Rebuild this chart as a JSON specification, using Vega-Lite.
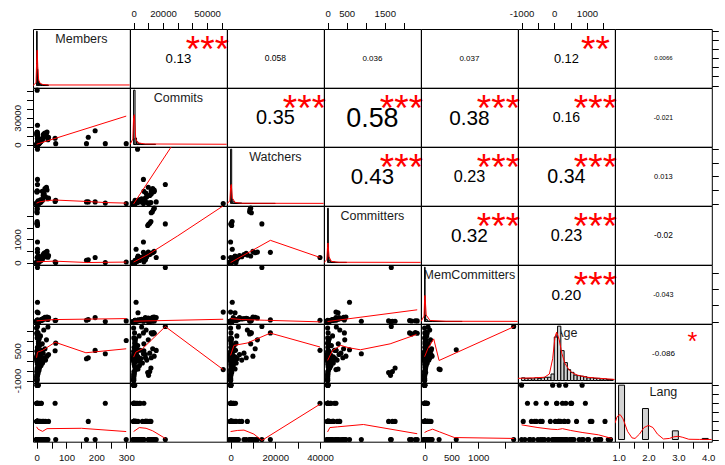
{
"$schema":"https://vega.github.io/schema/vega-lite/v6.json",
"padding":{"left":12,"top":8,"right":0,"bottom":0},
"background":"white",
"columns":7,
"spacing":0,
"bounds":"flush",
"config":{
"view":{"stroke":"#000","strokeWidth":1},
"axis":{"grid":false,"domain":false,"tickColor":"#000","tickSize":6.5,"tickWidth":1,"labelFont":"Liberation Sans","labelFontSize":9.6,"labelColor":"#111","labelPadding":4,"labelFlush":false,"labelOverlap":false},
"text":{"font":"Liberation Sans","baseline":"alphabetic","align":"center","color":"#000"}
},
"datasets":{
"vars":[{"v":"Members"},{"v":"Commits"},{"v":"Watchers"},{"v":"Committers"},{"v":"MemCommitters"},{"v":"Age"},{"v":"Lang"}],
"cor":[
{"cell":"1-2","r":"0.13","s":"***"},{"cell":"1-3","r":"0.058","s":""},{"cell":"1-4","r":"0.036","s":""},{"cell":"1-5","r":"0.037","s":""},{"cell":"1-6","r":"0.12","s":"**"},{"cell":"1-7","r":"0.0066","s":""},
{"cell":"2-3","r":"0.35","s":"***"},{"cell":"2-4","r":"0.58","s":"***"},{"cell":"2-5","r":"0.38","s":"***"},{"cell":"2-6","r":"0.16","s":"***"},{"cell":"2-7","r":"-0.021","s":""},
{"cell":"3-4","r":"0.43","s":"***"},{"cell":"3-5","r":"0.23","s":"***"},{"cell":"3-6","r":"0.34","s":"***"},{"cell":"3-7","r":"0.013","s":""},
{"cell":"4-5","r":"0.32","s":"***"},{"cell":"4-6","r":"0.23","s":"***"},{"cell":"4-7","r":"-0.02","s":""},
{"cell":"5-6","r":"0.20","s":"***"},{"cell":"5-7","r":"-0.043","s":""},
{"cell":"6-7","r":"-0.086","s":"*"}],
"obs":[
{"Members":2,"Commits":61000,"Watchers":0,"Committers":220,"MemCommitters":290,"Age":-450,"Lang":null},
{"Members":3,"Commits":2700,"Watchers":40000,"Committers":220,"MemCommitters":40,"Age":520,"Lang":3},
{"Members":3,"Commits":21600,"Watchers":14000,"Committers":1670,"MemCommitters":1660,"Age":1720,"Lang":1},
{"Members":2,"Commits":14100,"Watchers":9000,"Committers":2350,"MemCommitters":20,"Age":1380,"Lang":1},
{"Members":2,"Commits":13600,"Watchers":8700,"Committers":2300,"MemCommitters":25,"Age":1420,"Lang":1},
{"Members":1,"Commits":12800,"Watchers":8500,"Committers":2200,"MemCommitters":15,"Age":1350,"Lang":1},
{"Members":2,"Commits":12000,"Watchers":9300,"Committers":2150,"MemCommitters":30,"Age":1400,"Lang":1},
{"Members":2,"Commits":11800,"Watchers":700,"Committers":1770,"MemCommitters":10,"Age":-370,"Lang":2},
{"Members":1,"Commits":11000,"Watchers":300,"Committers":1700,"MemCommitters":5,"Age":-550,"Lang":2},
{"Members":2,"Commits":10200,"Watchers":100,"Committers":1650,"MemCommitters":0,"Age":-740,"Lang":1},
{"Members":3,"Commits":9600,"Watchers":500,"Committers":1600,"MemCommitters":20,"Age":-600,"Lang":2},
{"Members":3,"Commits":6700,"Watchers":0,"Committers":885,"MemCommitters":10,"Age":352,"Lang":1},
{"Members":3,"Commits":6700,"Watchers":17800,"Committers":440,"MemCommitters":50,"Age":1400,"Lang":1},
{"Members":3,"Commits":1700,"Watchers":750,"Committers":575,"MemCommitters":590,"Age":553,"Lang":1},
{"Members":5,"Commits":3000,"Watchers":2000,"Committers":275,"MemCommitters":270,"Age":-420,"Lang":1},
{"Members":300,"Commits":1000,"Watchers":0,"Committers":20,"MemCommitters":20,"Age":1020,"Lang":1},
{"Members":230,"Commits":1000,"Watchers":300,"Committers":0,"MemCommitters":0,"Age":352,"Lang":3},
{"Members":196,"Commits":15400,"Watchers":1200,"Committers":220,"MemCommitters":120,"Age":518,"Lang":1},
{"Members":173,"Commits":8100,"Watchers":1200,"Committers":120,"MemCommitters":60,"Age":150,"Lang":2},
{"Members":167,"Commits":1000,"Watchers":1200,"Committers":100,"MemCommitters":40,"Age":100,"Lang":1},
{"Members":64,"Commits":1000,"Watchers":2400,"Committers":0,"MemCommitters":40,"Age":885,"Lang":1},
{"Members":62,"Commits":7000,"Watchers":1500,"Committers":30,"MemCommitters":30,"Age":500,"Lang":3},
{"Members":0,"Commits":10,"Watchers":2,"Committers":1,"MemCommitters":0,"Age":-1000,"Lang":1},
{"Members":1,"Commits":30,"Watchers":5,"Committers":1,"MemCommitters":0,"Age":-950,"Lang":2},
{"Members":2,"Commits":120,"Watchers":20,"Committers":3,"MemCommitters":1,"Age":-900,"Lang":1},
{"Members":0,"Commits":50,"Watchers":10,"Committers":2,"MemCommitters":0,"Age":-820,"Lang":3},
{"Members":3,"Commits":300,"Watchers":40,"Committers":5,"MemCommitters":2,"Age":-760,"Lang":1},
{"Members":1,"Commits":80,"Watchers":15,"Committers":2,"MemCommitters":1,"Age":-700,"Lang":2},
{"Members":5,"Commits":500,"Watchers":100,"Committers":10,"MemCommitters":5,"Age":-640,"Lang":1},
{"Members":2,"Commits":200,"Watchers":60,"Committers":4,"MemCommitters":2,"Age":-560,"Lang":3},
{"Members":8,"Commits":900,"Watchers":300,"Committers":20,"MemCommitters":10,"Age":-500,"Lang":1},
{"Members":4,"Commits":1500,"Watchers":500,"Committers":30,"MemCommitters":15,"Age":-430,"Lang":2},
{"Members":10,"Commits":2500,"Watchers":800,"Committers":60,"MemCommitters":20,"Age":-360,"Lang":1},
{"Members":6,"Commits":700,"Watchers":150,"Committers":15,"MemCommitters":8,"Age":-300,"Lang":1},
{"Members":15,"Commits":4000,"Watchers":1200,"Committers":90,"MemCommitters":30,"Age":-240,"Lang":3},
{"Members":3,"Commits":400,"Watchers":80,"Committers":8,"MemCommitters":3,"Age":-180,"Lang":1},
{"Members":20,"Commits":6000,"Watchers":2500,"Committers":150,"MemCommitters":50,"Age":-120,"Lang":2},
{"Members":7,"Commits":1200,"Watchers":400,"Committers":40,"MemCommitters":12,"Age":-60,"Lang":1},
{"Members":12,"Commits":3500,"Watchers":1500,"Committers":120,"MemCommitters":40,"Age":-20,"Lang":1},
{"Members":2,"Commits":100,"Watchers":30,"Committers":3,"MemCommitters":1,"Age":10,"Lang":1},
{"Members":30,"Commits":9000,"Watchers":5000,"Committers":250,"MemCommitters":80,"Age":30,"Lang":2},
{"Members":4,"Commits":800,"Watchers":200,"Committers":25,"MemCommitters":10,"Age":50,"Lang":1},
{"Members":9,"Commits":2000,"Watchers":700,"Committers":70,"MemCommitters":25,"Age":70,"Lang":3},
{"Members":1,"Commits":60,"Watchers":12,"Committers":2,"MemCommitters":1,"Age":90,"Lang":1},
{"Members":18,"Commits":5000,"Watchers":3000,"Committers":200,"MemCommitters":60,"Age":110,"Lang":1},
{"Members":5,"Commits":1000,"Watchers":350,"Committers":35,"MemCommitters":15,"Age":130,"Lang":2},
{"Members":25,"Commits":12000,"Watchers":7000,"Committers":400,"MemCommitters":100,"Age":150,"Lang":1},
{"Members":3,"Commits":250,"Watchers":50,"Committers":6,"MemCommitters":2,"Age":170,"Lang":1},
{"Members":14,"Commits":3000,"Watchers":2000,"Committers":150,"MemCommitters":45,"Age":190,"Lang":2},
{"Members":6,"Commits":600,"Watchers":250,"Committers":18,"MemCommitters":6,"Age":210,"Lang":1},
{"Members":35,"Commits":14000,"Watchers":10000,"Committers":480,"MemCommitters":140,"Age":230,"Lang":1},
{"Members":2,"Commits":150,"Watchers":25,"Committers":4,"MemCommitters":1,"Age":250,"Lang":3},
{"Members":11,"Commits":2200,"Watchers":1000,"Committers":80,"MemCommitters":30,"Age":280,"Lang":1},
{"Members":40,"Commits":8000,"Watchers":4000,"Committers":300,"MemCommitters":120,"Age":310,"Lang":2},
{"Members":4,"Commits":450,"Watchers":90,"Committers":10,"MemCommitters":4,"Age":340,"Lang":1},
{"Members":22,"Commits":11000,"Watchers":6000,"Committers":350,"MemCommitters":90,"Age":380,"Lang":1},
{"Members":8,"Commits":1800,"Watchers":600,"Committers":50,"MemCommitters":20,"Age":420,"Lang":2},
{"Members":1,"Commits":40,"Watchers":8,"Committers":1,"MemCommitters":0,"Age":470,"Lang":1},
{"Members":16,"Commits":4500,"Watchers":2200,"Committers":180,"MemCommitters":55,"Age":530,"Lang":3},
{"Members":28,"Commits":13000,"Watchers":11000,"Committers":420,"MemCommitters":130,"Age":600,"Lang":1},
{"Members":3,"Commits":350,"Watchers":70,"Committers":7,"MemCommitters":3,"Age":680,"Lang":2},
{"Members":10,"Commits":2800,"Watchers":1600,"Committers":100,"MemCommitters":35,"Age":760,"Lang":1},
{"Members":19,"Commits":7000,"Watchers":9000,"Committers":280,"MemCommitters":70,"Age":850,"Lang":1},
{"Members":6,"Commits":900,"Watchers":300,"Committers":22,"MemCommitters":8,"Age":950,"Lang":3},
{"Members":33,"Commits":10000,"Watchers":12000,"Committers":450,"MemCommitters":110,"Age":1050,"Lang":1},
{"Members":2,"Commits":180,"Watchers":40,"Committers":3,"MemCommitters":1,"Age":1150,"Lang":2},
{"Members":13,"Commits":3800,"Watchers":2800,"Committers":130,"MemCommitters":40,"Age":1250,"Lang":1},
{"Members":5,"Commits":650,"Watchers":180,"Committers":14,"MemCommitters":5,"Age":1400,"Lang":1},
{"Members":24,"Commits":8500,"Watchers":7500,"Committers":320,"MemCommitters":95,"Age":1550,"Lang":2},
{"Members":0,"Commits":20,"Watchers":3,"Committers":1,"MemCommitters":0,"Age":1650,"Lang":1},
{"Members":38,"Commits":5500,"Watchers":3500,"Committers":230,"MemCommitters":65,"Age":1700,"Lang":1},
{"Members":9,"Commits":1300,"Watchers":450,"Committers":45,"MemCommitters":14,"Age":1100,"Lang":2},
{"Members":1,"Commits":70,"Watchers":10,"Committers":2,"MemCommitters":0,"Age":60,"Lang":1},
{"Members":2,"Commits":140,"Watchers":30,"Committers":3,"MemCommitters":1,"Age":120,"Lang":2},
{"Members":0,"Commits":25,"Watchers":4,"Committers":1,"MemCommitters":0,"Age":180,"Lang":1},
{"Members":3,"Commits":330,"Watchers":60,"Committers":6,"MemCommitters":2,"Age":140,"Lang":1},
{"Members":1,"Commits":90,"Watchers":18,"Committers":2,"MemCommitters":1,"Age":80,"Lang":3},
{"Members":4,"Commits":600,"Watchers":150,"Committers":12,"MemCommitters":4,"Age":200,"Lang":1},
{"Members":2,"Commits":260,"Watchers":45,"Committers":5,"MemCommitters":2,"Age":300,"Lang":2},
{"Members":5,"Commits":700,"Watchers":220,"Committers":16,"MemCommitters":7,"Age":100,"Lang":1},
{"Members":2,"Commits":100,"Watchers":20,"Committers":2,"MemCommitters":1,"Age":-1000,"Lang":4},
{"Members":1,"Commits":50,"Watchers":10,"Committers":1,"MemCommitters":0,"Age":-50,"Lang":4},
{"Members":4,"Commits":400,"Watchers":100,"Committers":8,"MemCommitters":3,"Age":150,"Lang":4},
{"Members":3,"Commits":200,"Watchers":50,"Committers":5,"MemCommitters":2,"Age":350,"Lang":4},
{"Members":6,"Commits":800,"Watchers":200,"Committers":15,"MemCommitters":6,"Age":850,"Lang":4}
],
"sm":[
{"p":"2-1","x":0,"y":300},{"p":"2-1","x":300,"y":31900},
{"p":"3-1","x":0,"y":300},{"p":"3-1","x":10,"y":1200},{"p":"3-1","x":30,"y":2000},{"p":"3-1","x":60,"y":2600},{"p":"3-1","x":170,"y":1500},{"p":"3-1","x":230,"y":700},{"p":"3-1","x":300,"y":300},
{"p":"3-2","x":0,"y":-300},{"p":"3-2","x":61000,"y":100000},
{"p":"4-1","x":0,"y":30},{"p":"4-1","x":60,"y":60},{"p":"4-1","x":170,"y":0},{"p":"4-1","x":300,"y":20},
{"p":"4-2","x":0,"y":20},{"p":"4-2","x":10000,"y":350},{"p":"4-2","x":30000,"y":1150},{"p":"4-2","x":61000,"y":2450},
{"p":"4-3","x":0,"y":0},{"p":"4-3","x":17800,"y":960},{"p":"4-3","x":40000,"y":220},
{"p":"5-1","x":0,"y":20},{"p":"5-1","x":60,"y":60},{"p":"5-1","x":300,"y":90},
{"p":"5-2","x":0,"y":10},{"p":"5-2","x":61000,"y":70},
{"p":"5-3","x":0,"y":90},{"p":"5-3","x":5000,"y":60},{"p":"5-3","x":15000,"y":40},{"p":"5-3","x":40000,"y":-10},
{"p":"5-4","x":0,"y":0},{"p":"5-4","x":2350,"y":360},
{"p":"6-1","x":0,"y":150},{"p":"6-1","x":3,"y":430},{"p":"6-1","x":20,"y":520},{"p":"6-1","x":62,"y":930},{"p":"6-1","x":165,"y":400},{"p":"6-1","x":300,"y":600},
{"p":"6-2","x":0,"y":180},{"p":"6-2","x":1500,"y":430},{"p":"6-2","x":6000,"y":600},{"p":"6-2","x":21600,"y":1720},{"p":"6-2","x":61000,"y":-450},
{"p":"6-3","x":0,"y":270},{"p":"6-3","x":1500,"y":770},{"p":"6-3","x":7400,"y":890},{"p":"6-3","x":17800,"y":1390},{"p":"6-3","x":40000,"y":690},
{"p":"6-4","x":0,"y":14},{"p":"6-4","x":130,"y":514},{"p":"6-4","x":345,"y":770},{"p":"6-4","x":560,"y":650},{"p":"6-4","x":860,"y":550},{"p":"6-4","x":1640,"y":850},{"p":"6-4","x":2330,"y":1320},
{"p":"6-5","x":0,"y":200},{"p":"6-5","x":60,"y":600},{"p":"6-5","x":170,"y":1100},{"p":"6-5","x":270,"y":10},{"p":"6-5","x":1670,"y":1720},
{"p":"7-1","x":0,"y":1.7},{"p":"7-1","x":5,"y":1.57},{"p":"7-1","x":20,"y":1.45},{"p":"7-1","x":35,"y":1.6},{"p":"7-1","x":150,"y":1.62},{"p":"7-1","x":300,"y":1.44},
{"p":"7-2","x":0,"y":1.44},{"p":"7-2","x":3900,"y":1.66},{"p":"7-2","x":8500,"y":1.62},{"p":"7-2","x":13000,"y":1.48},{"p":"7-2","x":21600,"y":1.06},
{"p":"7-3","x":0,"y":1.44},{"p":"7-3","x":3000,"y":1.5},{"p":"7-3","x":6000,"y":1.52},{"p":"7-3","x":10400,"y":1.3},{"p":"7-3","x":14000,"y":0.95},{"p":"7-3","x":40000,"y":2.95},
{"p":"7-4","x":0,"y":1.42},{"p":"7-4","x":60,"y":1.66},{"p":"7-4","x":260,"y":1.7},{"p":"7-4","x":940,"y":1.83},{"p":"7-4","x":2350,"y":1.32},
{"p":"7-5","x":0,"y":1.39},{"p":"7-5","x":60,"y":1.48},{"p":"7-5","x":150,"y":1.57},{"p":"7-5","x":280,"y":1.42},{"p":"7-5","x":555,"y":1.11},{"p":"7-5","x":1667,"y":1.06},
{"p":"7-6","x":-1000,"y":1.81},{"p":"7-6","x":-500,"y":1.66},{"p":"7-6","x":-100,"y":1.57},{"p":"7-6","x":100,"y":1.55},{"p":"7-6","x":250,"y":1.6},{"p":"7-6","x":500,"y":1.5},{"p":"7-6","x":850,"y":1.39},{"p":"7-6","x":1350,"y":1.26},{"p":"7-6","x":1760,"y":1.06}
],
"hist":[
{"v":"Members","x0":0,"x1":2,"h":1},{"v":"Members","x0":2,"x1":4,"h":0.3},{"v":"Members","x0":4,"x1":6,"h":0.12},{"v":"Members","x0":6,"x1":8,"h":0.07},{"v":"Members","x0":8,"x1":10,"h":0.05},{"v":"Members","x0":10,"x1":14,"h":0.03},{"v":"Members","x0":14,"x1":20,"h":0.02},{"v":"Members","x0":20,"x1":40,"h":0.01},
{"v":"Commits","x0":0,"x1":1000,"h":1},{"v":"Commits","x0":1000,"x1":2000,"h":0.12},{"v":"Commits","x0":2000,"x1":3000,"h":0.05},{"v":"Commits","x0":3000,"x1":5000,"h":0.02},{"v":"Commits","x0":5000,"x1":15000,"h":0.005},
{"v":"Watchers","x0":0,"x1":500,"h":1},{"v":"Watchers","x0":500,"x1":1000,"h":0.08},{"v":"Watchers","x0":1000,"x1":2000,"h":0.03},{"v":"Watchers","x0":2000,"x1":5000,"h":0.01},{"v":"Watchers","x0":5000,"x1":20000,"h":0.003},
{"v":"Committers","x0":0,"x1":20,"h":1},{"v":"Committers","x0":20,"x1":40,"h":0.1},{"v":"Committers","x0":40,"x1":80,"h":0.04},{"v":"Committers","x0":80,"x1":200,"h":0.01},{"v":"Committers","x0":200,"x1":500,"h":0.003},
{"v":"MemCommitters","x0":0,"x1":10,"h":1},{"v":"MemCommitters","x0":10,"x1":20,"h":0.12},{"v":"MemCommitters","x0":20,"x1":50,"h":0.04},{"v":"MemCommitters","x0":50,"x1":150,"h":0.01},{"v":"MemCommitters","x0":150,"x1":700,"h":0.002},
{"v":"Age","x0":-1000,"x1":-900,"h":0.05},{"v":"Age","x0":-900,"x1":-800,"h":0.04},{"v":"Age","x0":-800,"x1":-700,"h":0.04},{"v":"Age","x0":-700,"x1":-600,"h":0.03},{"v":"Age","x0":-600,"x1":-500,"h":0.05},{"v":"Age","x0":-500,"x1":-400,"h":0.04},{"v":"Age","x0":-400,"x1":-300,"h":0.05},{"v":"Age","x0":-300,"x1":-200,"h":0.06},{"v":"Age","x0":-200,"x1":-100,"h":0.06},{"v":"Age","x0":-100,"x1":0,"h":0.12},{"v":"Age","x0":0,"x1":100,"h":0.8},{"v":"Age","x0":100,"x1":200,"h":1},{"v":"Age","x0":200,"x1":300,"h":0.55},{"v":"Age","x0":300,"x1":400,"h":0.33},{"v":"Age","x0":400,"x1":500,"h":0.2},{"v":"Age","x0":500,"x1":600,"h":0.15},{"v":"Age","x0":600,"x1":700,"h":0.1},{"v":"Age","x0":700,"x1":800,"h":0.09},{"v":"Age","x0":800,"x1":900,"h":0.08},{"v":"Age","x0":900,"x1":1000,"h":0.07},{"v":"Age","x0":1000,"x1":1100,"h":0.05},{"v":"Age","x0":1100,"x1":1200,"h":0.05},{"v":"Age","x0":1200,"x1":1300,"h":0.04},{"v":"Age","x0":1300,"x1":1400,"h":0.04},{"v":"Age","x0":1400,"x1":1500,"h":0.03},{"v":"Age","x0":1500,"x1":1600,"h":0.03},{"v":"Age","x0":1600,"x1":1700,"h":0.02},{"v":"Age","x0":1700,"x1":1800,"h":0.02},
{"v":"Lang","x0":1.0,"x1":1.2,"h":1},{"v":"Lang","x0":1.8,"x1":2.0,"h":0.57},{"v":"Lang","x0":2.8,"x1":3.0,"h":0.16},{"v":"Lang","x0":3.8,"x1":4.0,"h":0.02}
],
"dens":[
{"v":"Members","x":-12,"y":0},{"v":"Members","x":-2,"y":0.05},{"v":"Members","x":0,"y":0.4},{"v":"Members","x":2,"y":0.65},{"v":"Members","x":4,"y":0.35},{"v":"Members","x":7,"y":0.1},{"v":"Members","x":12,"y":0.04},{"v":"Members","x":20,"y":0.02},{"v":"Members","x":40,"y":0.01},{"v":"Members","x":312,"y":0.01},
{"v":"Commits","x":-2440,"y":0},{"v":"Commits","x":-500,"y":0.1},{"v":"Commits","x":0,"y":0.5},{"v":"Commits","x":500,"y":0.55},{"v":"Commits","x":1500,"y":0.1},{"v":"Commits","x":3000,"y":0.03},{"v":"Commits","x":8000,"y":0.01},{"v":"Commits","x":63440,"y":0.005},
{"v":"Watchers","x":-1604,"y":0},{"v":"Watchers","x":-300,"y":0.05},{"v":"Watchers","x":0,"y":0.3},{"v":"Watchers","x":300,"y":0.35},{"v":"Watchers","x":800,"y":0.1},{"v":"Watchers","x":2000,"y":0.02},{"v":"Watchers","x":5000,"y":0.005},{"v":"Watchers","x":41704,"y":0.003},
{"v":"Committers","x":-94,"y":0},{"v":"Committers","x":-20,"y":0.05},{"v":"Committers","x":0,"y":0.3},{"v":"Committers","x":10,"y":0.36},{"v":"Committers","x":40,"y":0.1},{"v":"Committers","x":100,"y":0.02},{"v":"Committers","x":300,"y":0.005},{"v":"Committers","x":2444,"y":0.003},
{"v":"MemCommitters","x":-66.8,"y":0},{"v":"MemCommitters","x":-10,"y":0.1},{"v":"MemCommitters","x":0,"y":0.4},{"v":"MemCommitters","x":8,"y":0.48},{"v":"MemCommitters","x":30,"y":0.12},{"v":"MemCommitters","x":100,"y":0.02},{"v":"MemCommitters","x":400,"y":0.005},{"v":"MemCommitters","x":1736.8,"y":0.003},
{"v":"Age","x":-1109,"y":0.04},{"v":"Age","x":-600,"y":0.05},{"v":"Age","x":-300,"y":0.06},{"v":"Age","x":-150,"y":0.12},{"v":"Age","x":-50,"y":0.4},{"v":"Age","x":20,"y":0.8},{"v":"Age","x":72,"y":0.89},{"v":"Age","x":150,"y":0.75},{"v":"Age","x":230,"y":0.5},{"v":"Age","x":330,"y":0.31},{"v":"Age","x":450,"y":0.2},{"v":"Age","x":530,"y":0.15},{"v":"Age","x":700,"y":0.1},{"v":"Age","x":1000,"y":0.06},{"v":"Age","x":1400,"y":0.04},{"v":"Age","x":1849,"y":0.02},
{"v":"Lang","x":0.88,"y":0.3},{"v":"Lang","x":0.95,"y":0.42},{"v":"Lang","x":1.05,"y":0.46},{"v":"Lang","x":1.15,"y":0.38},{"v":"Lang","x":1.3,"y":0.15},{"v":"Lang","x":1.45,"y":0.03},{"v":"Lang","x":1.55,"y":0.02},{"v":"Lang","x":1.7,"y":0.1},{"v":"Lang","x":1.85,"y":0.22},{"v":"Lang","x":2.0,"y":0.26},{"v":"Lang","x":2.15,"y":0.22},{"v":"Lang","x":2.3,"y":0.1},{"v":"Lang","x":2.5,"y":0.01},{"v":"Lang","x":2.7,"y":0.02},{"v":"Lang","x":2.85,"y":0.05},{"v":"Lang","x":3.0,"y":0.06},{"v":"Lang","x":3.15,"y":0.04},{"v":"Lang","x":3.35,"y":0.005},{"v":"Lang","x":3.7,"y":0.002},{"v":"Lang","x":4.12,"y":0.001}
]
},
"concat":[
{"width":96.8,"height":58.7,"layer":[
 {"data":{"name":"vars"},"transform":[{"filter":"datum.v=='Members'"}],"mark":{"type":"text","fontSize":12.5,"dy":4.5,"color":"#1a1a1a"},"encoding":{"x":{"datum":0.5,"type":"quantitative","scale":{"domain":[0,1]},"axis":null},"y":{"datum":0.833,"type":"quantitative","scale":{"domain":[0,1]},"axis":null},"text":{"field":"v"}}},
 {"layer":[
  {"data":{"name":"hist"},"transform":[{"filter":"datum.v=='Members'"}],"mark":{"type":"rect","fill":"#d3d3d3","stroke":"#000","strokeWidth":1},"encoding":{"x":{"field":"x0","type":"quantitative","scale":{"domain":[-12,312],"nice":false,"zero":false},"axis":null},"x2":{"field":"x1"},"y":{"field":"h","type":"quantitative","scale":{"domain":[-0.04,1.04],"nice":false,"zero":false},"axis":null},"y2":{"datum":0}}},
  {"data":{"name":"dens"},"transform":[{"filter":"datum.v=='Members'"}],"mark":{"type":"line","color":"red","strokeWidth":1,"clip":true},"encoding":{"x":{"field":"x","type":"quantitative","axis":null},"y":{"field":"y","type":"quantitative","axis":null}}}
 ]}
],"resolve":{"scale":{"x":"independent","y":"independent"}}},
{"width":96.8,"height":58.7,"layer":[
 {"data":{"name":"cor"},"transform":[{"filter":"datum.cell=='1-2'"}],"layer":[
  {"mark":{"type":"text","fontSize":13.2,"dy":4.7},"encoding":{"x":{"datum":0.5,"type":"quantitative","scale":{"domain":[0,1]},"axis":null},"y":{"datum":0.5,"type":"quantitative","scale":{"domain":[0,1]},"axis":null},"text":{"field":"r"}}},
  {"mark":{"type":"text","fontSize":37,"dy":21.4,"color":"red"},"encoding":{"x":{"datum":0.8,"type":"quantitative","axis":null},"y":{"datum":0.8,"type":"quantitative","axis":null},"text":{"field":"s"}}}]},
 {"data":{"name":"obs"},"mark":{"type":"point","opacity":0},"encoding":{"x":{"field":"Commits","type":"quantitative","scale":{"domain":[-2440,63440],"nice":false,"zero":false},"axis":{"orient":"top","title":null,"values":[0,10000,20000,30000,40000,50000,60000],"format":"d","labelExpr":"indexof([0,20000,50000],datum.value)>=0?datum.label:''"}}}}
],"resolve":{"scale":{"x":"independent","y":"independent"}}},
{"width":96.8,"height":58.7,"data":{"name":"cor"},"transform":[{"filter":"datum.cell=='1-3'"}],"mark":{"type":"text","fontSize":8.5,"dy":3.0},"encoding":{"x":{"datum":0.5,"type":"quantitative","scale":{"domain":[0,1]},"axis":null},"y":{"datum":0.5,"type":"quantitative","scale":{"domain":[0,1]},"axis":null},"text":{"field":"r"}}},
{"width":96.8,"height":58.7,"layer":[
 {"data":{"name":"cor"},"transform":[{"filter":"datum.cell=='1-4'"}],"mark":{"type":"text","fontSize":8.0,"dy":2.9},"encoding":{"x":{"datum":0.5,"type":"quantitative","scale":{"domain":[0,1]},"axis":null},"y":{"datum":0.5,"type":"quantitative","scale":{"domain":[0,1]},"axis":null},"text":{"field":"r"}}},
 {"data":{"name":"obs"},"mark":{"type":"point","opacity":0},"encoding":{"x":{"field":"Committers","type":"quantitative","scale":{"domain":[-94,2444],"nice":false,"zero":false},"axis":{"orient":"top","title":null,"values":[0,500,1000,1500,2000],"format":"d","labelExpr":"indexof([0,500,1500],datum.value)>=0?datum.label:''"}}}}
],"resolve":{"scale":{"x":"independent","y":"independent"}}},
{"width":96.8,"height":58.7,"data":{"name":"cor"},"transform":[{"filter":"datum.cell=='1-5'"}],"mark":{"type":"text","fontSize":8.0,"dy":2.9},"encoding":{"x":{"datum":0.5,"type":"quantitative","scale":{"domain":[0,1]},"axis":null},"y":{"datum":0.5,"type":"quantitative","scale":{"domain":[0,1]},"axis":null},"text":{"field":"r"}}},
{"width":96.8,"height":58.7,"layer":[
 {"data":{"name":"cor"},"transform":[{"filter":"datum.cell=='1-6'"}],"layer":[
  {"mark":{"type":"text","fontSize":12.85,"dy":4.6},"encoding":{"x":{"datum":0.5,"type":"quantitative","scale":{"domain":[0,1]},"axis":null},"y":{"datum":0.5,"type":"quantitative","scale":{"domain":[0,1]},"axis":null},"text":{"field":"r"}}},
  {"mark":{"type":"text","fontSize":37,"dy":21.4,"color":"red"},"encoding":{"x":{"datum":0.8,"type":"quantitative","axis":null},"y":{"datum":0.8,"type":"quantitative","axis":null},"text":{"field":"s"}}}]},
 {"data":{"name":"obs"},"mark":{"type":"point","opacity":0},"encoding":{"x":{"field":"Age","type":"quantitative","scale":{"domain":[-1109.6,1849.6],"nice":false,"zero":false},"axis":{"orient":"top","title":null,"values":[-1000,-500,0,500,1000,1500],"format":"d","labelExpr":"indexof([-1000,0,1000],datum.value)>=0?replace(datum.label,'\u2212','-'):''"}}}}
],"resolve":{"scale":{"x":"independent","y":"independent"}}},
{"width":96.8,"height":58.7,"layer":[
 {"data":{"name":"cor"},"transform":[{"filter":"datum.cell=='1-7'"}],"mark":{"type":"text","fontSize":6.0,"dy":2.1},"encoding":{"x":{"datum":0.5,"type":"quantitative","scale":{"domain":[0,1]},"axis":null},"y":{"datum":0.5,"type":"quantitative","scale":{"domain":[0,1]},"axis":null},"text":{"field":"r"}}},
 {"data":{"name":"obs"},"mark":{"type":"point","opacity":0},"encoding":{"y":{"field":"Members","type":"quantitative","scale":{"domain":[-12,312],"nice":false,"zero":false},"axis":{"orient":"right","title":null,"values":[0,50,100,150,200,250,300],"labels":false}}}}
],"resolve":{"scale":{"x":"independent","y":"independent"}}},

{"width":96.8,"height":58.7,"layer":[
 {"data":{"name":"obs"},"mark":{"type":"circle","size":26,"color":"#000","opacity":1},"encoding":{"x":{"field":"Members","type":"quantitative","scale":{"domain":[-12,312],"nice":false,"zero":false},"axis":null},"y":{"field":"Commits","type":"quantitative","scale":{"domain":[-2440,63440],"nice":false,"zero":false},"axis":{"orient":"left","title":null,"values":[0,10000,20000,30000,40000,50000,60000],"format":"d","labelExpr":"indexof([0,30000],datum.value)>=0?datum.label:''","labelAngle":-90,"labelAlign":"center","labelBaseline":"bottom"}}}},
 {"data":{"name":"sm"},"transform":[{"filter":"datum.p=='2-1'"}],"mark":{"type":"line","color":"red","strokeWidth":1,"clip":true},"encoding":{"x":{"field":"x","type":"quantitative","axis":null},"y":{"field":"y","type":"quantitative","axis":{"orient":"left","title":null,"values":[0,10000,20000,30000,40000,50000,60000],"format":"d","labelExpr":"indexof([0,30000],datum.value)>=0?datum.label:''","labelAngle":-90,"labelAlign":"center","labelBaseline":"bottom"}}}}]},
{"width":96.8,"height":58.7,"layer":[
 {"data":{"name":"vars"},"transform":[{"filter":"datum.v=='Commits'"}],"mark":{"type":"text","fontSize":12.5,"dy":4.5,"color":"#1a1a1a"},"encoding":{"x":{"datum":0.5,"type":"quantitative","scale":{"domain":[0,1]},"axis":null},"y":{"datum":0.833,"type":"quantitative","scale":{"domain":[0,1]},"axis":null},"text":{"field":"v"}}},
 {"layer":[
  {"data":{"name":"hist"},"transform":[{"filter":"datum.v=='Commits'"}],"mark":{"type":"rect","fill":"#d3d3d3","stroke":"#000","strokeWidth":1},"encoding":{"x":{"field":"x0","type":"quantitative","scale":{"domain":[-2440,63440],"nice":false,"zero":false},"axis":null},"x2":{"field":"x1"},"y":{"field":"h","type":"quantitative","scale":{"domain":[-0.04,1.04],"nice":false,"zero":false},"axis":null},"y2":{"datum":0}}},
  {"data":{"name":"dens"},"transform":[{"filter":"datum.v=='Commits'"}],"mark":{"type":"line","color":"red","strokeWidth":1,"clip":true},"encoding":{"x":{"field":"x","type":"quantitative","axis":null},"y":{"field":"y","type":"quantitative","axis":null}}}
 ]}
],"resolve":{"scale":{"x":"independent","y":"independent"}}},
{"width":96.8,"height":58.7,"data":{"name":"cor"},"transform":[{"filter":"datum.cell=='2-3'"}],"layer":[
  {"mark":{"type":"text","fontSize":19.9,"dy":7.1},"encoding":{"x":{"datum":0.5,"type":"quantitative","scale":{"domain":[0,1]},"axis":null},"y":{"datum":0.5,"type":"quantitative","scale":{"domain":[0,1]},"axis":null},"text":{"field":"r"}}},
  {"mark":{"type":"text","fontSize":37,"dy":21.4,"color":"red"},"encoding":{"x":{"datum":0.8,"type":"quantitative","axis":null},"y":{"datum":0.8,"type":"quantitative","axis":null},"text":{"field":"s"}}}]},
{"width":96.8,"height":58.7,"data":{"name":"cor"},"transform":[{"filter":"datum.cell=='2-4'"}],"layer":[
  {"mark":{"type":"text","fontSize":26.9,"dy":9.6},"encoding":{"x":{"datum":0.5,"type":"quantitative","scale":{"domain":[0,1]},"axis":null},"y":{"datum":0.5,"type":"quantitative","scale":{"domain":[0,1]},"axis":null},"text":{"field":"r"}}},
  {"mark":{"type":"text","fontSize":37,"dy":21.4,"color":"red"},"encoding":{"x":{"datum":0.8,"type":"quantitative","axis":null},"y":{"datum":0.8,"type":"quantitative","axis":null},"text":{"field":"s"}}}]},
{"width":96.8,"height":58.7,"data":{"name":"cor"},"transform":[{"filter":"datum.cell=='2-5'"}],"layer":[
  {"mark":{"type":"text","fontSize":20.8,"dy":7.4},"encoding":{"x":{"datum":0.5,"type":"quantitative","scale":{"domain":[0,1]},"axis":null},"y":{"datum":0.5,"type":"quantitative","scale":{"domain":[0,1]},"axis":null},"text":{"field":"r"}}},
  {"mark":{"type":"text","fontSize":37,"dy":21.4,"color":"red"},"encoding":{"x":{"datum":0.8,"type":"quantitative","axis":null},"y":{"datum":0.8,"type":"quantitative","axis":null},"text":{"field":"s"}}}]},
{"width":96.8,"height":58.7,"data":{"name":"cor"},"transform":[{"filter":"datum.cell=='2-6'"}],"layer":[
  {"mark":{"type":"text","fontSize":14.1,"dy":5.0},"encoding":{"x":{"datum":0.5,"type":"quantitative","scale":{"domain":[0,1]},"axis":null},"y":{"datum":0.5,"type":"quantitative","scale":{"domain":[0,1]},"axis":null},"text":{"field":"r"}}},
  {"mark":{"type":"text","fontSize":37,"dy":21.4,"color":"red"},"encoding":{"x":{"datum":0.8,"type":"quantitative","axis":null},"y":{"datum":0.8,"type":"quantitative","axis":null},"text":{"field":"s"}}}]},
{"width":96.8,"height":58.7,"data":{"name":"cor"},"transform":[{"filter":"datum.cell=='2-7'"}],"mark":{"type":"text","fontSize":6.75,"dy":2.4},"encoding":{"x":{"datum":0.5,"type":"quantitative","scale":{"domain":[0,1]},"axis":null},"y":{"datum":0.5,"type":"quantitative","scale":{"domain":[0,1]},"axis":null},"text":{"field":"r"}}},

{"width":96.8,"height":58.7,"layer":[
 {"data":{"name":"obs"},"mark":{"type":"circle","size":26,"color":"#000","opacity":1},"encoding":{"x":{"field":"Members","type":"quantitative","scale":{"domain":[-12,312],"nice":false,"zero":false},"axis":null},"y":{"field":"Watchers","type":"quantitative","scale":{"domain":[-1604,41704],"nice":false,"zero":false},"axis":null}}},
 {"data":{"name":"sm"},"transform":[{"filter":"datum.p=='3-1'"}],"mark":{"type":"line","color":"red","strokeWidth":1,"clip":true},"encoding":{"x":{"field":"x","type":"quantitative","axis":null},"y":{"field":"y","type":"quantitative","axis":null}}}]},
{"width":96.8,"height":58.7,"layer":[
 {"data":{"name":"obs"},"mark":{"type":"circle","size":26,"color":"#000","opacity":1},"encoding":{"x":{"field":"Commits","type":"quantitative","scale":{"domain":[-2440,63440],"nice":false,"zero":false},"axis":null},"y":{"field":"Watchers","type":"quantitative","scale":{"domain":[-1604,41704],"nice":false,"zero":false},"axis":null}}},
 {"data":{"name":"sm"},"transform":[{"filter":"datum.p=='3-2'"}],"mark":{"type":"line","color":"red","strokeWidth":1,"clip":true},"encoding":{"x":{"field":"x","type":"quantitative","axis":null},"y":{"field":"y","type":"quantitative","axis":null}}}]},
{"width":96.8,"height":58.7,"layer":[
 {"data":{"name":"vars"},"transform":[{"filter":"datum.v=='Watchers'"}],"mark":{"type":"text","fontSize":12.5,"dy":4.5,"color":"#1a1a1a"},"encoding":{"x":{"datum":0.5,"type":"quantitative","scale":{"domain":[0,1]},"axis":null},"y":{"datum":0.833,"type":"quantitative","scale":{"domain":[0,1]},"axis":null},"text":{"field":"v"}}},
 {"layer":[
  {"data":{"name":"hist"},"transform":[{"filter":"datum.v=='Watchers'"}],"mark":{"type":"rect","fill":"#d3d3d3","stroke":"#000","strokeWidth":1},"encoding":{"x":{"field":"x0","type":"quantitative","scale":{"domain":[-1604,41704],"nice":false,"zero":false},"axis":null},"x2":{"field":"x1"},"y":{"field":"h","type":"quantitative","scale":{"domain":[-0.04,1.04],"nice":false,"zero":false},"axis":null},"y2":{"datum":0}}},
  {"data":{"name":"dens"},"transform":[{"filter":"datum.v=='Watchers'"}],"mark":{"type":"line","color":"red","strokeWidth":1,"clip":true},"encoding":{"x":{"field":"x","type":"quantitative","axis":null},"y":{"field":"y","type":"quantitative","axis":null}}}
 ]}
],"resolve":{"scale":{"x":"independent","y":"independent"}}},
{"width":96.8,"height":58.7,"data":{"name":"cor"},"transform":[{"filter":"datum.cell=='3-4'"}],"layer":[
  {"mark":{"type":"text","fontSize":22.3,"dy":8.0},"encoding":{"x":{"datum":0.5,"type":"quantitative","scale":{"domain":[0,1]},"axis":null},"y":{"datum":0.5,"type":"quantitative","scale":{"domain":[0,1]},"axis":null},"text":{"field":"r"}}},
  {"mark":{"type":"text","fontSize":37,"dy":21.4,"color":"red"},"encoding":{"x":{"datum":0.8,"type":"quantitative","axis":null},"y":{"datum":0.8,"type":"quantitative","axis":null},"text":{"field":"s"}}}]},
{"width":96.8,"height":58.7,"data":{"name":"cor"},"transform":[{"filter":"datum.cell=='3-5'"}],"layer":[
  {"mark":{"type":"text","fontSize":16.2,"dy":5.8},"encoding":{"x":{"datum":0.5,"type":"quantitative","scale":{"domain":[0,1]},"axis":null},"y":{"datum":0.5,"type":"quantitative","scale":{"domain":[0,1]},"axis":null},"text":{"field":"r"}}},
  {"mark":{"type":"text","fontSize":37,"dy":21.4,"color":"red"},"encoding":{"x":{"datum":0.8,"type":"quantitative","axis":null},"y":{"datum":0.8,"type":"quantitative","axis":null},"text":{"field":"s"}}}]},
{"width":96.8,"height":58.7,"data":{"name":"cor"},"transform":[{"filter":"datum.cell=='3-6'"}],"layer":[
  {"mark":{"type":"text","fontSize":19.6,"dy":7.0},"encoding":{"x":{"datum":0.5,"type":"quantitative","scale":{"domain":[0,1]},"axis":null},"y":{"datum":0.5,"type":"quantitative","scale":{"domain":[0,1]},"axis":null},"text":{"field":"r"}}},
  {"mark":{"type":"text","fontSize":37,"dy":21.4,"color":"red"},"encoding":{"x":{"datum":0.8,"type":"quantitative","axis":null},"y":{"datum":0.8,"type":"quantitative","axis":null},"text":{"field":"s"}}}]},
{"width":96.8,"height":58.7,"layer":[
 {"data":{"name":"cor"},"transform":[{"filter":"datum.cell=='3-7'"}],"mark":{"type":"text","fontSize":7.45,"dy":2.7},"encoding":{"x":{"datum":0.5,"type":"quantitative","scale":{"domain":[0,1]},"axis":null},"y":{"datum":0.5,"type":"quantitative","scale":{"domain":[0,1]},"axis":null},"text":{"field":"r"}}},
 {"data":{"name":"obs"},"mark":{"type":"point","opacity":0},"encoding":{"y":{"field":"Watchers","type":"quantitative","scale":{"domain":[-1604,41704],"nice":false,"zero":false},"axis":{"orient":"right","title":null,"values":[0,10000,20000,30000,40000],"labels":false}}}}
],"resolve":{"scale":{"x":"independent","y":"independent"}}},

{"width":96.8,"height":58.7,"layer":[
 {"data":{"name":"obs"},"mark":{"type":"circle","size":26,"color":"#000","opacity":1},"encoding":{"x":{"field":"Members","type":"quantitative","scale":{"domain":[-12,312],"nice":false,"zero":false},"axis":null},"y":{"field":"Committers","type":"quantitative","scale":{"domain":[-94,2444],"nice":false,"zero":false},"axis":{"orient":"left","title":null,"values":[0,500,1000,1500,2000],"format":"d","labelExpr":"indexof([0,1000],datum.value)>=0?datum.label:''","labelAngle":-90,"labelAlign":"center","labelBaseline":"bottom"}}}},
 {"data":{"name":"sm"},"transform":[{"filter":"datum.p=='4-1'"}],"mark":{"type":"line","color":"red","strokeWidth":1,"clip":true},"encoding":{"x":{"field":"x","type":"quantitative","axis":null},"y":{"field":"y","type":"quantitative","axis":{"orient":"left","title":null,"values":[0,500,1000,1500,2000],"format":"d","labelExpr":"indexof([0,1000],datum.value)>=0?datum.label:''","labelAngle":-90,"labelAlign":"center","labelBaseline":"bottom"}}}}]},
{"width":96.8,"height":58.7,"layer":[
 {"data":{"name":"obs"},"mark":{"type":"circle","size":26,"color":"#000","opacity":1},"encoding":{"x":{"field":"Commits","type":"quantitative","scale":{"domain":[-2440,63440],"nice":false,"zero":false},"axis":null},"y":{"field":"Committers","type":"quantitative","scale":{"domain":[-94,2444],"nice":false,"zero":false},"axis":null}}},
 {"data":{"name":"sm"},"transform":[{"filter":"datum.p=='4-2'"}],"mark":{"type":"line","color":"red","strokeWidth":1,"clip":true},"encoding":{"x":{"field":"x","type":"quantitative","axis":null},"y":{"field":"y","type":"quantitative","axis":null}}}]},
{"width":96.8,"height":58.7,"layer":[
 {"data":{"name":"obs"},"mark":{"type":"circle","size":26,"color":"#000","opacity":1},"encoding":{"x":{"field":"Watchers","type":"quantitative","scale":{"domain":[-1604,41704],"nice":false,"zero":false},"axis":null},"y":{"field":"Committers","type":"quantitative","scale":{"domain":[-94,2444],"nice":false,"zero":false},"axis":null}}},
 {"data":{"name":"sm"},"transform":[{"filter":"datum.p=='4-3'"}],"mark":{"type":"line","color":"red","strokeWidth":1,"clip":true},"encoding":{"x":{"field":"x","type":"quantitative","axis":null},"y":{"field":"y","type":"quantitative","axis":null}}}]},
{"width":96.8,"height":58.7,"layer":[
 {"data":{"name":"vars"},"transform":[{"filter":"datum.v=='Committers'"}],"mark":{"type":"text","fontSize":12.5,"dy":4.5,"color":"#1a1a1a"},"encoding":{"x":{"datum":0.5,"type":"quantitative","scale":{"domain":[0,1]},"axis":null},"y":{"datum":0.833,"type":"quantitative","scale":{"domain":[0,1]},"axis":null},"text":{"field":"v"}}},
 {"layer":[
  {"data":{"name":"hist"},"transform":[{"filter":"datum.v=='Committers'"}],"mark":{"type":"rect","fill":"#d3d3d3","stroke":"#000","strokeWidth":1},"encoding":{"x":{"field":"x0","type":"quantitative","scale":{"domain":[-94,2444],"nice":false,"zero":false},"axis":null},"x2":{"field":"x1"},"y":{"field":"h","type":"quantitative","scale":{"domain":[-0.04,1.04],"nice":false,"zero":false},"axis":null},"y2":{"datum":0}}},
  {"data":{"name":"dens"},"transform":[{"filter":"datum.v=='Committers'"}],"mark":{"type":"line","color":"red","strokeWidth":1,"clip":true},"encoding":{"x":{"field":"x","type":"quantitative","axis":null},"y":{"field":"y","type":"quantitative","axis":null}}}
 ]}
],"resolve":{"scale":{"x":"independent","y":"independent"}}},
{"width":96.8,"height":58.7,"data":{"name":"cor"},"transform":[{"filter":"datum.cell=='4-5'"}],"layer":[
  {"mark":{"type":"text","fontSize":19.0,"dy":6.8},"encoding":{"x":{"datum":0.5,"type":"quantitative","scale":{"domain":[0,1]},"axis":null},"y":{"datum":0.5,"type":"quantitative","scale":{"domain":[0,1]},"axis":null},"text":{"field":"r"}}},
  {"mark":{"type":"text","fontSize":37,"dy":21.4,"color":"red"},"encoding":{"x":{"datum":0.8,"type":"quantitative","axis":null},"y":{"datum":0.8,"type":"quantitative","axis":null},"text":{"field":"s"}}}]},
{"width":96.8,"height":58.7,"data":{"name":"cor"},"transform":[{"filter":"datum.cell=='4-6'"}],"layer":[
  {"mark":{"type":"text","fontSize":16.2,"dy":5.8},"encoding":{"x":{"datum":0.5,"type":"quantitative","scale":{"domain":[0,1]},"axis":null},"y":{"datum":0.5,"type":"quantitative","scale":{"domain":[0,1]},"axis":null},"text":{"field":"r"}}},
  {"mark":{"type":"text","fontSize":37,"dy":21.4,"color":"red"},"encoding":{"x":{"datum":0.8,"type":"quantitative","axis":null},"y":{"datum":0.8,"type":"quantitative","axis":null},"text":{"field":"s"}}}]},
{"width":96.8,"height":58.7,"data":{"name":"cor"},"transform":[{"filter":"datum.cell=='4-7'"}],"mark":{"type":"text","fontSize":8.36,"dy":3.0},"encoding":{"x":{"datum":0.5,"type":"quantitative","scale":{"domain":[0,1]},"axis":null},"y":{"datum":0.5,"type":"quantitative","scale":{"domain":[0,1]},"axis":null},"text":{"field":"r"}}},

{"width":96.8,"height":58.7,"layer":[
 {"data":{"name":"obs"},"mark":{"type":"circle","size":26,"color":"#000","opacity":1},"encoding":{"x":{"field":"Members","type":"quantitative","scale":{"domain":[-12,312],"nice":false,"zero":false},"axis":null},"y":{"field":"MemCommitters","type":"quantitative","scale":{"domain":[-66.8,1736.8],"nice":false,"zero":false},"axis":null}}},
 {"data":{"name":"sm"},"transform":[{"filter":"datum.p=='5-1'"}],"mark":{"type":"line","color":"red","strokeWidth":1,"clip":true},"encoding":{"x":{"field":"x","type":"quantitative","axis":null},"y":{"field":"y","type":"quantitative","axis":null}}}]},
{"width":96.8,"height":58.7,"layer":[
 {"data":{"name":"obs"},"mark":{"type":"circle","size":26,"color":"#000","opacity":1},"encoding":{"x":{"field":"Commits","type":"quantitative","scale":{"domain":[-2440,63440],"nice":false,"zero":false},"axis":null},"y":{"field":"MemCommitters","type":"quantitative","scale":{"domain":[-66.8,1736.8],"nice":false,"zero":false},"axis":null}}},
 {"data":{"name":"sm"},"transform":[{"filter":"datum.p=='5-2'"}],"mark":{"type":"line","color":"red","strokeWidth":1,"clip":true},"encoding":{"x":{"field":"x","type":"quantitative","axis":null},"y":{"field":"y","type":"quantitative","axis":null}}}]},
{"width":96.8,"height":58.7,"layer":[
 {"data":{"name":"obs"},"mark":{"type":"circle","size":26,"color":"#000","opacity":1},"encoding":{"x":{"field":"Watchers","type":"quantitative","scale":{"domain":[-1604,41704],"nice":false,"zero":false},"axis":null},"y":{"field":"MemCommitters","type":"quantitative","scale":{"domain":[-66.8,1736.8],"nice":false,"zero":false},"axis":null}}},
 {"data":{"name":"sm"},"transform":[{"filter":"datum.p=='5-3'"}],"mark":{"type":"line","color":"red","strokeWidth":1,"clip":true},"encoding":{"x":{"field":"x","type":"quantitative","axis":null},"y":{"field":"y","type":"quantitative","axis":null}}}]},
{"width":96.8,"height":58.7,"layer":[
 {"data":{"name":"obs"},"mark":{"type":"circle","size":26,"color":"#000","opacity":1},"encoding":{"x":{"field":"Committers","type":"quantitative","scale":{"domain":[-94,2444],"nice":false,"zero":false},"axis":null},"y":{"field":"MemCommitters","type":"quantitative","scale":{"domain":[-66.8,1736.8],"nice":false,"zero":false},"axis":null}}},
 {"data":{"name":"sm"},"transform":[{"filter":"datum.p=='5-4'"}],"mark":{"type":"line","color":"red","strokeWidth":1,"clip":true},"encoding":{"x":{"field":"x","type":"quantitative","axis":null},"y":{"field":"y","type":"quantitative","axis":null}}}]},
{"width":96.8,"height":58.7,"layer":[
 {"data":{"name":"vars"},"transform":[{"filter":"datum.v=='MemCommitters'"}],"mark":{"type":"text","fontSize":12.5,"dy":4.5,"color":"#1a1a1a"},"encoding":{"x":{"datum":0.5,"type":"quantitative","scale":{"domain":[0,1]},"axis":null},"y":{"datum":0.833,"type":"quantitative","scale":{"domain":[0,1]},"axis":null},"text":{"field":"v"}}},
 {"layer":[
  {"data":{"name":"hist"},"transform":[{"filter":"datum.v=='MemCommitters'"}],"mark":{"type":"rect","fill":"#d3d3d3","stroke":"#000","strokeWidth":1},"encoding":{"x":{"field":"x0","type":"quantitative","scale":{"domain":[-66.8,1736.8],"nice":false,"zero":false},"axis":null},"x2":{"field":"x1"},"y":{"field":"h","type":"quantitative","scale":{"domain":[-0.04,1.04],"nice":false,"zero":false},"axis":null},"y2":{"datum":0}}},
  {"data":{"name":"dens"},"transform":[{"filter":"datum.v=='MemCommitters'"}],"mark":{"type":"line","color":"red","strokeWidth":1,"clip":true},"encoding":{"x":{"field":"x","type":"quantitative","axis":null},"y":{"field":"y","type":"quantitative","axis":null}}}
 ]}
],"resolve":{"scale":{"x":"independent","y":"independent"}}},
{"width":96.8,"height":58.7,"data":{"name":"cor"},"transform":[{"filter":"datum.cell=='5-6'"}],"layer":[
  {"mark":{"type":"text","fontSize":15.3,"dy":5.5},"encoding":{"x":{"datum":0.5,"type":"quantitative","scale":{"domain":[0,1]},"axis":null},"y":{"datum":0.5,"type":"quantitative","scale":{"domain":[0,1]},"axis":null},"text":{"field":"r"}}},
  {"mark":{"type":"text","fontSize":37,"dy":21.4,"color":"red"},"encoding":{"x":{"datum":0.8,"type":"quantitative","axis":null},"y":{"datum":0.8,"type":"quantitative","axis":null},"text":{"field":"s"}}}]},
{"width":96.8,"height":58.7,"layer":[
 {"data":{"name":"cor"},"transform":[{"filter":"datum.cell=='5-7'"}],"mark":{"type":"text","fontSize":7.2,"dy":2.6},"encoding":{"x":{"datum":0.5,"type":"quantitative","scale":{"domain":[0,1]},"axis":null},"y":{"datum":0.5,"type":"quantitative","scale":{"domain":[0,1]},"axis":null},"text":{"field":"r"}}},
 {"data":{"name":"obs"},"mark":{"type":"point","opacity":0},"encoding":{"y":{"field":"MemCommitters","type":"quantitative","scale":{"domain":[-66.8,1736.8],"nice":false,"zero":false},"axis":{"orient":"right","title":null,"values":[0,500,1000,1500],"labels":false}}}}
],"resolve":{"scale":{"x":"independent","y":"independent"}}},

{"width":96.8,"height":58.7,"layer":[
 {"data":{"name":"obs"},"mark":{"type":"circle","size":26,"color":"#000","opacity":1},"encoding":{"x":{"field":"Members","type":"quantitative","scale":{"domain":[-12,312],"nice":false,"zero":false},"axis":null},"y":{"field":"Age","type":"quantitative","scale":{"domain":[-1109.6,1849.6],"nice":false,"zero":false},"axis":{"orient":"left","title":null,"values":[-1000,-500,0,500,1000,1500],"format":"d","labelExpr":"indexof([-1000,500],datum.value)>=0?replace(datum.label,'\u2212','-'):''","labelAngle":-90,"labelAlign":"center","labelBaseline":"bottom"}}}},
 {"data":{"name":"sm"},"transform":[{"filter":"datum.p=='6-1'"}],"mark":{"type":"line","color":"red","strokeWidth":1,"clip":true},"encoding":{"x":{"field":"x","type":"quantitative","axis":null},"y":{"field":"y","type":"quantitative","axis":{"orient":"left","title":null,"values":[-1000,-500,0,500,1000,1500],"format":"d","labelExpr":"indexof([-1000,500],datum.value)>=0?replace(datum.label,'\u2212','-'):''","labelAngle":-90,"labelAlign":"center","labelBaseline":"bottom"}}}}]},
{"width":96.8,"height":58.7,"layer":[
 {"data":{"name":"obs"},"mark":{"type":"circle","size":26,"color":"#000","opacity":1},"encoding":{"x":{"field":"Commits","type":"quantitative","scale":{"domain":[-2440,63440],"nice":false,"zero":false},"axis":null},"y":{"field":"Age","type":"quantitative","scale":{"domain":[-1109.6,1849.6],"nice":false,"zero":false},"axis":null}}},
 {"data":{"name":"sm"},"transform":[{"filter":"datum.p=='6-2'"}],"mark":{"type":"line","color":"red","strokeWidth":1,"clip":true},"encoding":{"x":{"field":"x","type":"quantitative","axis":null},"y":{"field":"y","type":"quantitative","axis":null}}}]},
{"width":96.8,"height":58.7,"layer":[
 {"data":{"name":"obs"},"mark":{"type":"circle","size":26,"color":"#000","opacity":1},"encoding":{"x":{"field":"Watchers","type":"quantitative","scale":{"domain":[-1604,41704],"nice":false,"zero":false},"axis":null},"y":{"field":"Age","type":"quantitative","scale":{"domain":[-1109.6,1849.6],"nice":false,"zero":false},"axis":null}}},
 {"data":{"name":"sm"},"transform":[{"filter":"datum.p=='6-3'"}],"mark":{"type":"line","color":"red","strokeWidth":1,"clip":true},"encoding":{"x":{"field":"x","type":"quantitative","axis":null},"y":{"field":"y","type":"quantitative","axis":null}}}]},
{"width":96.8,"height":58.7,"layer":[
 {"data":{"name":"obs"},"mark":{"type":"circle","size":26,"color":"#000","opacity":1},"encoding":{"x":{"field":"Committers","type":"quantitative","scale":{"domain":[-94,2444],"nice":false,"zero":false},"axis":null},"y":{"field":"Age","type":"quantitative","scale":{"domain":[-1109.6,1849.6],"nice":false,"zero":false},"axis":null}}},
 {"data":{"name":"sm"},"transform":[{"filter":"datum.p=='6-4'"}],"mark":{"type":"line","color":"red","strokeWidth":1,"clip":true},"encoding":{"x":{"field":"x","type":"quantitative","axis":null},"y":{"field":"y","type":"quantitative","axis":null}}}]},
{"width":96.8,"height":58.7,"layer":[
 {"data":{"name":"obs"},"mark":{"type":"circle","size":26,"color":"#000","opacity":1},"encoding":{"x":{"field":"MemCommitters","type":"quantitative","scale":{"domain":[-66.8,1736.8],"nice":false,"zero":false},"axis":null},"y":{"field":"Age","type":"quantitative","scale":{"domain":[-1109.6,1849.6],"nice":false,"zero":false},"axis":null}}},
 {"data":{"name":"sm"},"transform":[{"filter":"datum.p=='6-5'"}],"mark":{"type":"line","color":"red","strokeWidth":1,"clip":true},"encoding":{"x":{"field":"x","type":"quantitative","axis":null},"y":{"field":"y","type":"quantitative","axis":null}}}]},
{"width":96.8,"height":58.7,"layer":[
 {"data":{"name":"vars"},"transform":[{"filter":"datum.v=='Age'"}],"mark":{"type":"text","fontSize":12.5,"dy":3.2,"color":"#1a1a1a"},"encoding":{"x":{"datum":0.5,"type":"quantitative","scale":{"domain":[0,1]},"axis":null},"y":{"datum":0.833,"type":"quantitative","scale":{"domain":[0,1]},"axis":null},"text":{"field":"v"}}},
 {"layer":[
  {"data":{"name":"hist"},"transform":[{"filter":"datum.v=='Age'"}],"mark":{"type":"rect","fill":"#d3d3d3","stroke":"#000","strokeWidth":1},"encoding":{"x":{"field":"x0","type":"quantitative","scale":{"domain":[-1109.6,1849.6],"nice":false,"zero":false},"axis":null},"x2":{"field":"x1"},"y":{"field":"h","type":"quantitative","scale":{"domain":[-0.04,1.04],"nice":false,"zero":false},"axis":null},"y2":{"datum":0}}},
  {"data":{"name":"dens"},"transform":[{"filter":"datum.v=='Age'"}],"mark":{"type":"line","color":"red","strokeWidth":1,"clip":true},"encoding":{"x":{"field":"x","type":"quantitative","axis":null},"y":{"field":"y","type":"quantitative","axis":null}}}
 ]}
],"resolve":{"scale":{"x":"independent","y":"independent"}}},
{"width":96.8,"height":58.7,"data":{"name":"cor"},"transform":[{"filter":"datum.cell=='6-7'"}],"layer":[
  {"mark":{"type":"text","fontSize":8.1,"dy":2.9},"encoding":{"x":{"datum":0.5,"type":"quantitative","scale":{"domain":[0,1]},"axis":null},"y":{"datum":0.5,"type":"quantitative","scale":{"domain":[0,1]},"axis":null},"text":{"field":"r"}}},
  {"mark":{"type":"text","fontSize":25.4,"dy":14.7,"color":"red"},"encoding":{"x":{"datum":0.8,"type":"quantitative","axis":null},"y":{"datum":0.8,"type":"quantitative","axis":null},"text":{"field":"s"}}}]},

{"width":96.8,"height":58.7,"layer":[
 {"data":{"name":"obs"},"mark":{"type":"circle","size":26,"color":"#000","opacity":1},"encoding":{"x":{"field":"Members","type":"quantitative","scale":{"domain":[-12,312],"nice":false,"zero":false},"axis":{"orient":"bottom","title":null,"values":[0,50,100,150,200,250,300],"format":"d","labelExpr":"indexof([0,100,200,300],datum.value)>=0?datum.label:''"}},"y":{"field":"Lang","type":"quantitative","scale":{"domain":[0.88,4.12],"nice":false,"zero":false},"axis":null}}},
 {"data":{"name":"sm"},"transform":[{"filter":"datum.p=='7-1'"}],"mark":{"type":"line","color":"red","strokeWidth":1,"clip":true},"encoding":{"x":{"field":"x","type":"quantitative","axis":{"orient":"bottom","title":null,"values":[0,50,100,150,200,250,300],"format":"d","labelExpr":"indexof([0,100,200,300],datum.value)>=0?datum.label:''"}},"y":{"field":"y","type":"quantitative","axis":null}}}]},
{"width":96.8,"height":58.7,"layer":[
 {"data":{"name":"obs"},"mark":{"type":"circle","size":26,"color":"#000","opacity":1},"encoding":{"x":{"field":"Commits","type":"quantitative","scale":{"domain":[-2440,63440],"nice":false,"zero":false},"axis":null},"y":{"field":"Lang","type":"quantitative","scale":{"domain":[0.88,4.12],"nice":false,"zero":false},"axis":null}}},
 {"data":{"name":"sm"},"transform":[{"filter":"datum.p=='7-2'"}],"mark":{"type":"line","color":"red","strokeWidth":1,"clip":true},"encoding":{"x":{"field":"x","type":"quantitative","axis":null},"y":{"field":"y","type":"quantitative","axis":null}}}]},
{"width":96.8,"height":58.7,"layer":[
 {"data":{"name":"obs"},"mark":{"type":"circle","size":26,"color":"#000","opacity":1},"encoding":{"x":{"field":"Watchers","type":"quantitative","scale":{"domain":[-1604,41704],"nice":false,"zero":false},"axis":{"orient":"bottom","title":null,"values":[0,10000,20000,30000,40000],"format":"d","labelExpr":"indexof([0,20000,40000],datum.value)>=0?datum.label:''"}},"y":{"field":"Lang","type":"quantitative","scale":{"domain":[0.88,4.12],"nice":false,"zero":false},"axis":null}}},
 {"data":{"name":"sm"},"transform":[{"filter":"datum.p=='7-3'"}],"mark":{"type":"line","color":"red","strokeWidth":1,"clip":true},"encoding":{"x":{"field":"x","type":"quantitative","axis":{"orient":"bottom","title":null,"values":[0,10000,20000,30000,40000],"format":"d","labelExpr":"indexof([0,20000,40000],datum.value)>=0?datum.label:''"}},"y":{"field":"y","type":"quantitative","axis":null}}}]},
{"width":96.8,"height":58.7,"layer":[
 {"data":{"name":"obs"},"mark":{"type":"circle","size":26,"color":"#000","opacity":1},"encoding":{"x":{"field":"Committers","type":"quantitative","scale":{"domain":[-94,2444],"nice":false,"zero":false},"axis":null},"y":{"field":"Lang","type":"quantitative","scale":{"domain":[0.88,4.12],"nice":false,"zero":false},"axis":null}}},
 {"data":{"name":"sm"},"transform":[{"filter":"datum.p=='7-4'"}],"mark":{"type":"line","color":"red","strokeWidth":1,"clip":true},"encoding":{"x":{"field":"x","type":"quantitative","axis":null},"y":{"field":"y","type":"quantitative","axis":null}}}]},
{"width":96.8,"height":58.7,"layer":[
 {"data":{"name":"obs"},"mark":{"type":"circle","size":26,"color":"#000","opacity":1},"encoding":{"x":{"field":"MemCommitters","type":"quantitative","scale":{"domain":[-66.8,1736.8],"nice":false,"zero":false},"axis":{"orient":"bottom","title":null,"values":[0,500,1000,1500],"format":"d","labelExpr":"indexof([0,500,1000],datum.value)>=0?datum.label:''"}},"y":{"field":"Lang","type":"quantitative","scale":{"domain":[0.88,4.12],"nice":false,"zero":false},"axis":null}}},
 {"data":{"name":"sm"},"transform":[{"filter":"datum.p=='7-5'"}],"mark":{"type":"line","color":"red","strokeWidth":1,"clip":true},"encoding":{"x":{"field":"x","type":"quantitative","axis":{"orient":"bottom","title":null,"values":[0,500,1000,1500],"format":"d","labelExpr":"indexof([0,500,1000],datum.value)>=0?datum.label:''"}},"y":{"field":"y","type":"quantitative","axis":null}}}]},
{"width":96.8,"height":58.7,"layer":[
 {"data":{"name":"obs"},"mark":{"type":"circle","size":26,"color":"#000","opacity":1},"encoding":{"x":{"field":"Age","type":"quantitative","scale":{"domain":[-1109.6,1849.6],"nice":false,"zero":false},"axis":null},"y":{"field":"Lang","type":"quantitative","scale":{"domain":[0.88,4.12],"nice":false,"zero":false},"axis":null}}},
 {"data":{"name":"sm"},"transform":[{"filter":"datum.p=='7-6'"}],"mark":{"type":"line","color":"red","strokeWidth":1,"clip":true},"encoding":{"x":{"field":"x","type":"quantitative","axis":null},"y":{"field":"y","type":"quantitative","axis":null}}}]},
{"width":96.8,"height":58.7,"layer":[
 {"data":{"name":"vars"},"transform":[{"filter":"datum.v=='Lang'"}],"mark":{"type":"text","fontSize":12.5,"dy":3.2,"color":"#1a1a1a"},"encoding":{"x":{"datum":0.5,"type":"quantitative","scale":{"domain":[0,1]},"axis":null},"y":{"datum":0.833,"type":"quantitative","scale":{"domain":[0,1]},"axis":null},"text":{"field":"v"}}},
 {"layer":[
  {"data":{"name":"hist"},"transform":[{"filter":"datum.v=='Lang'"}],"mark":{"type":"rect","fill":"#d3d3d3","stroke":"#000","strokeWidth":1},"encoding":{"x":{"field":"x0","type":"quantitative","scale":{"domain":[0.88,4.12],"nice":false,"zero":false},"axis":{"orient":"bottom","title":null,"values":[1,1.5,2,2.5,3,3.5,4],"format":".1f","labelExpr":"datum.value%1==0?datum.label:''"}},"x2":{"field":"x1"},"y":{"field":"h","type":"quantitative","scale":{"domain":[-0.04,1.04],"nice":false,"zero":false},"axis":null},"y2":{"datum":0}}},
  {"data":{"name":"dens"},"transform":[{"filter":"datum.v=='Lang'"}],"mark":{"type":"line","color":"red","strokeWidth":1,"clip":true},"encoding":{"x":{"field":"x","type":"quantitative","axis":{"orient":"bottom","title":null,"values":[1,1.5,2,2.5,3,3.5,4],"format":".1f","labelExpr":"datum.value%1==0?datum.label:''"}},"y":{"field":"y","type":"quantitative","axis":null}}}
 ]},
 {"data":{"name":"obs"},"mark":{"type":"point","opacity":0},"encoding":{"y":{"field":"Lang","type":"quantitative","scale":{"domain":[0.88,4.12],"nice":false,"zero":false},"axis":{"orient":"right","title":null,"values":[1,1.5,2,2.5,3,3.5,4],"labels":false}}}}
],"resolve":{"scale":{"x":"independent","y":"independent"}}}
]
}
